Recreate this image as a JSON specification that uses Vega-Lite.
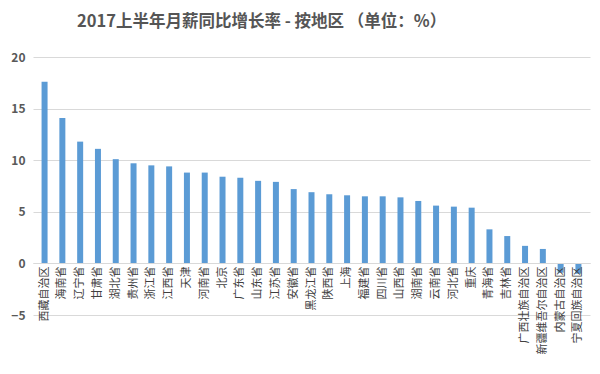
{
  "$schema": "https://vega.github.io/schema/vega-lite/v6.json",
  "autosize": {"type": "none"},
  "padding": {"left": 33, "top": 57, "right": 10, "bottom": 59},
  "width": 557,
  "height": 258,
  "background": "white",
  "title": {
    "text": "2017上半年月薪同比增长率 - 按地区 （单位：%）",
    "font": "Noto Sans CJK SC",
    "fontSize": 16.5,
    "fontWeight": "bold",
    "color": "#555555",
    "anchor": "start",
    "frame": "group",
    "dx": 44,
    "offset": 21
  },
  "data": {
    "values": [
      {"region": "西藏自治区", "value": 17.6},
      {"region": "海南省", "value": 14.1},
      {"region": "辽宁省", "value": 11.8},
      {"region": "甘肃省", "value": 11.1},
      {"region": "湖北省", "value": 10.1},
      {"region": "贵州省", "value": 9.7},
      {"region": "浙江省", "value": 9.5},
      {"region": "江西省", "value": 9.4},
      {"region": "天津", "value": 8.8},
      {"region": "河南省", "value": 8.8},
      {"region": "北京", "value": 8.4},
      {"region": "广东省", "value": 8.3},
      {"region": "山东省", "value": 8.0},
      {"region": "江苏省", "value": 7.9},
      {"region": "安徽省", "value": 7.2},
      {"region": "黑龙江省", "value": 6.9},
      {"region": "陕西省", "value": 6.7},
      {"region": "上海", "value": 6.6},
      {"region": "福建省", "value": 6.5},
      {"region": "四川省", "value": 6.5},
      {"region": "山西省", "value": 6.4},
      {"region": "湖南省", "value": 6.05},
      {"region": "云南省", "value": 5.6},
      {"region": "河北省", "value": 5.5},
      {"region": "重庆", "value": 5.4},
      {"region": "青海省", "value": 3.3},
      {"region": "吉林省", "value": 2.65},
      {"region": "广西壮族自治区", "value": 1.7},
      {"region": "新疆维吾尔自治区", "value": 1.4},
      {"region": "内蒙古自治区", "value": -0.9},
      {"region": "宁夏回族自治区", "value": -1.0}
    ]
  },
  "mark": {"type": "bar", "color": "#5B9BD5", "size": 6},
  "encoding": {
    "x": {
      "field": "region",
      "type": "nominal",
      "sort": null,
      "scale": {"paddingInner": 0.6, "paddingOuter": 0.45},
      "axis": {
        "title": null,
        "offset": -52,
        "zindex": 1,
        "labelAngle": -90,
        "labelFont": "Noto Sans CJK SC",
        "labelFontSize": 11,
        "labelColor": "#404040",
        "labelPadding": 3,
        "ticks": false,
        "domainColor": "#d9d9d9",
        "labelOverlap": false,
        "grid": false
      }
    },
    "y": {
      "field": "value",
      "type": "quantitative",
      "scale": {"domain": [-5, 20], "nice": false},
      "axis": {
        "title": null,
        "values": [-5, 0, 5, 10, 15, 20],
        "domain": false,
        "ticks": false,
        "labelFont": "Noto Sans CJK SC",
        "labelFontSize": 12,
        "labelFontWeight": "bold",
        "labelColor": "#595959",
        "labelPadding": 8,
        "gridColor": "#d9d9d9",
        "zindex": 0
      }
    }
  },
  "config": {"view": {"stroke": null}}
}
